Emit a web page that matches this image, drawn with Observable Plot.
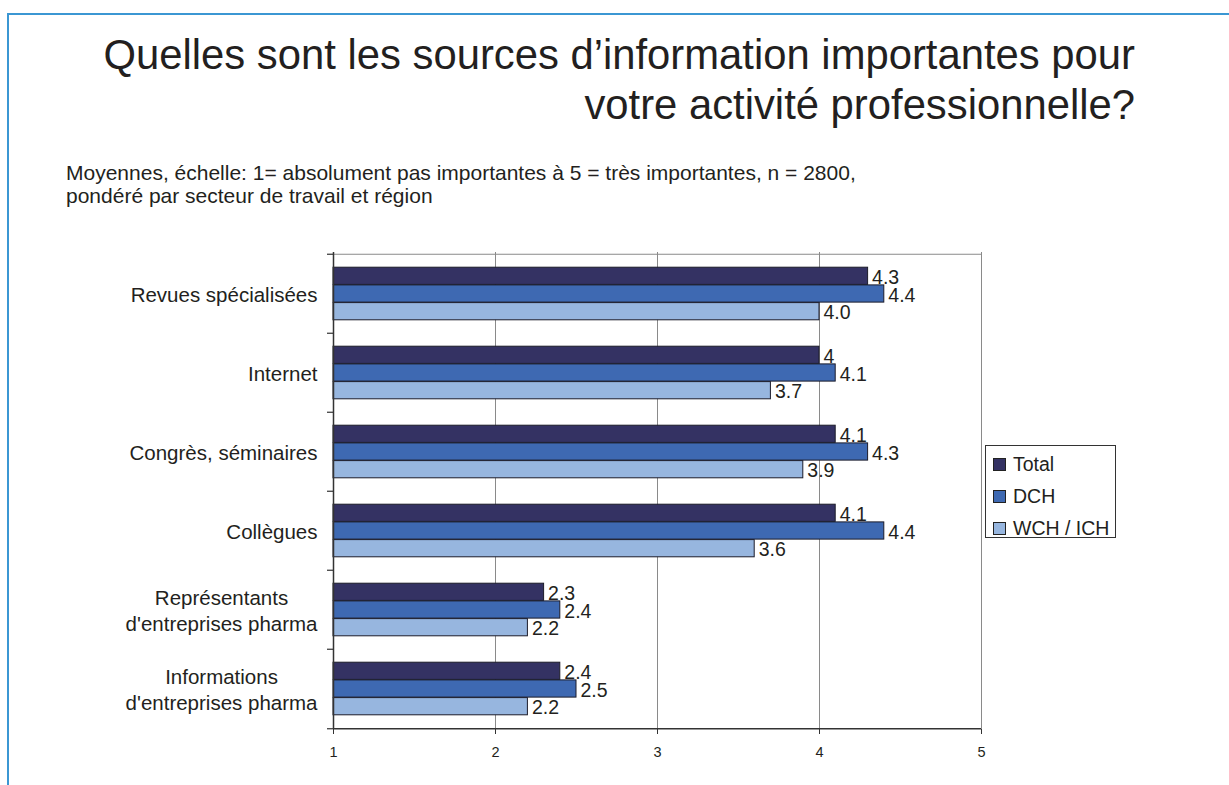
<!DOCTYPE html>
<html>
<head>
<meta charset="utf-8">
<script src="https://cdn.jsdelivr.net/npm/d3@7"></script>
<script src="https://cdn.jsdelivr.net/npm/@observablehq/plot@0.6"></script>
<style>
  html, body { margin: 0; padding: 0; background: #fff; }
  body { font-family: "Liberation Sans", Arial, Helvetica, sans-serif; color: #231f20; }
  #page { position: relative; width: 1229px; height: 785px; overflow: hidden; background: #fff; }
  #frame { position: absolute; left: 7px; top: 13px; width: 1240px; height: 800px;
           border-left: 2px solid #3b97d3; border-top: 2px solid #3b97d3; }
  #title { position: absolute; right: 94px; top: 30px; text-align: right;
           font-size: 41.8px; line-height: 50px; color: #231f20; white-space: nowrap; }
  #subtitle { position: absolute; left: 66px; top: 161px; font-size: 21px; line-height: 23px;
              color: #231f20; white-space: nowrap; }
  #chart { position: absolute; left: 0; top: 230px; }
  #legend { position: absolute; left: 985px; top: 445px; width: 129px; height: 91px;
            border: 1px solid #333; background: #fff; }
  .item { position: absolute; left: 7px; height: 22px; display: flex; align-items: center;
          font-size: 19.5px; line-height: 22px; white-space: nowrap; }
  .sw { width: 11px; height: 11px; border: 1px solid #222; margin-right: 7px; }
</style>
</head>
<body>
<div id="page">
  <div id="frame"></div>
  <div id="title">Quelles sont les sources d’information importantes pour<br>votre activité professionnelle?</div>
  <div id="subtitle">Moyennes, échelle: 1= absolument pas importantes à 5 = très importantes, n = 2800,<br>pondéré par secteur de travail et région</div>
  <div id="chart"></div>
  <div id="legend"></div>
</div>
<script>
const categories = [
  "Revues spécialisées",
  "Internet",
  "Congrès, séminaires",
  "Collègues",
  "Représentants\nd'entreprises pharma",
  "Informations\nd'entreprises pharma"
];
const series = ["Total", "DCH", "WCH / ICH"];
const totalValues = [4.3, 4.0, 4.1, 4.1, 2.3, 2.4];
const dchValues   = [4.4, 4.1, 4.3, 4.4, 2.4, 2.5];
const wchValues   = [4.0, 3.7, 3.9, 3.6, 2.2, 2.2];
const totalLabels = ["4.3", "4", "4.1", "4.1", "2.3", "2.4"];
const dchLabels   = ["4.4", "4.1", "4.3", "4.4", "2.4", "2.5"];
const wchLabels   = ["4.0", "3.7", "3.9", "3.6", "2.2", "2.2"];
const xTicks = [1, 2, 3, 4, 5];
const colors = ["#343263", "#3e69b2", "#97b6df"];

const valueSets = [totalValues, dchValues, wchValues];
const labelSets = [totalLabels, dchLabels, wchLabels];
const rows = series.map((s, j) => categories.map((c, i) => ({
  category: c, series: s, value: valueSets[j][i], label: labelSets[j][i]
})));

const W = 1229, H = 555;
const mTop = 22, mBottom = 56, mLeft = 333, mRight = 248;
const step = (H - mTop - mBottom) / categories.length;
const barH = 17.7;
const inset = (step - barH) / 2;

const marks = [
  Plot.ruleX(xTicks.slice(1), {x: d => d, stroke: "#8a8a8a", strokeWidth: 1}),
  Plot.ruleY([categories[0]], {y: d => d, dy: -step / 2, stroke: "#8a8a8a", strokeWidth: 1})
];
series.forEach((s, j) => {
  marks.push(Plot.barX(rows[j], {
    y: "category", x1: d => 1, x2: "value",
    fill: colors[j], stroke: "#1c1c2a", strokeWidth: 1,
    insetTop: inset, insetBottom: inset, dy: (j - 1) * barH
  }));
});
series.forEach((s, j) => {
  marks.push(Plot.text(rows[j], {
    x: "value", y: "category", text: "label",
    dx: 4, dy: (j - 1) * barH + 1.5, textAnchor: "start",
    fontSize: 19.5, fill: "#231f20"
  }));
});
marks.push(Plot.text(categories, {
  y: d => d, text: d => d, frameAnchor: "left", dx: -16,
  textAnchor: "end", lineAnchor: "middle", lineHeight: 1.25,
  fontSize: 20.5, fill: "#231f20"
}));
marks.push(Plot.ruleX([1], {x: d => d, stroke: "#333", strokeWidth: 1.5}));
marks.push(Plot.axisY(categories, {tickSize: 6, tickFormat: () => "", dy: -step / 2, stroke: "#333", strokeWidth: 1.2}));
marks.push(Plot.axisY([categories[categories.length - 1]], {tickSize: 6, tickFormat: () => "", dy: step / 2, stroke: "#333", strokeWidth: 1.2}));
marks.push(Plot.axisX(xTicks, {tickSize: 5, tickPadding: 12, fontSize: 14.5, tickFormat: d => String(d), stroke: "#333", fill: "#231f20", label: null}));
marks.push(Plot.ruleY([categories[categories.length - 1]], {y: d => d, dy: step / 2, stroke: "#333", strokeWidth: 1.5}));

const chart = Plot.plot({
  width: W, height: H,
  marginTop: mTop, marginBottom: mBottom, marginLeft: mLeft, marginRight: mRight,
  style: {fontFamily: "'Liberation Sans', Arial, sans-serif", fontSize: "14px", background: "transparent", overflow: "visible", color: "#231f20"},
  x: {domain: [1, 5], label: null},
  y: {domain: categories, padding: 0, axis: null, label: null},
  marks
});
document.getElementById("chart").appendChild(chart);

// center multi-line category labels around their widest line
d3.select(chart).selectAll("text").each(function () {
  const tspans = this.querySelectorAll("tspan");
  if (tspans.length < 2) return;
  let maxW = 0;
  tspans.forEach(t => { maxW = Math.max(maxW, t.getComputedTextLength()); });
  this.setAttribute("text-anchor", "middle");
  tspans.forEach(t => t.setAttribute("x", -maxW / 2));
});

const legend = document.getElementById("legend");
series.forEach((s, j) => {
  const item = document.createElement("div");
  item.className = "item";
  item.style.top = (7 + j * 32) + "px";
  const sw = document.createElement("div");
  sw.className = "sw";
  sw.style.background = colors[j];
  const lab = document.createElement("span");
  lab.textContent = s;
  item.appendChild(sw);
  item.appendChild(lab);
  legend.appendChild(item);
});
</script>
</body>
</html>
